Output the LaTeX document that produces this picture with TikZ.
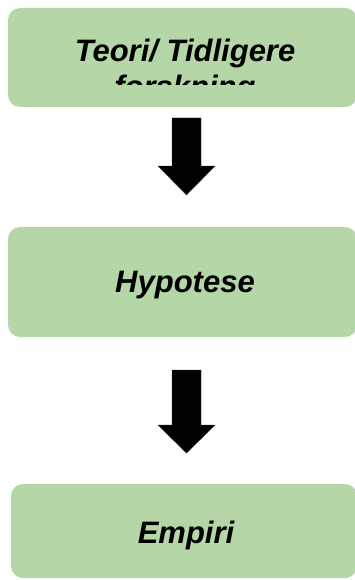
\documentclass[tikz,border=0pt]{standalone}
\usepackage{fontspec}
\setmainfont{Liberation Sans}
\definecolor{boxgreen}{RGB}{181,215,168}
\tikzset{
  greenbox/.style={fill=boxgreen, draw=none, rounded corners=12pt, inner sep=0pt},
  boxtext/.style={anchor=base, inner sep=0pt, font=\fontsize{31}{35}\selectfont\bfseries\itshape},
  blockarrow/.style={fill=black, draw=black!80, line width=0.4pt}
}
\begin{document}
\begin{tikzpicture}[x=1pt,y=-1pt]
\useasboundingbox (0,0) rectangle (355,580);
% boxes
\node[greenbox, minimum width=349pt, minimum height=99pt] (b1) at (182.5,57.5) {};
\node[greenbox, minimum width=349pt, minimum height=110pt] (b2) at (182.5,282) {};
\node[greenbox, minimum width=346pt, minimum height=94pt] (b3) at (184,531) {};
% text of first box, clipped
\begin{scope}
  \clip (8,8) rectangle (357,84.5);
  \node[boxtext] (t1a) at (185,62) {Teori/ Tidligere};
  \node[boxtext] (t1b) at (185,97.5) {forskning};
\end{scope}
\node[boxtext] (t2) at (185,292) {Hypotese};
\node[boxtext] (t3) at (186,543) {Empiri};
% block arrows
\draw[blockarrow] (172,118) -- (201,118) -- (201,166) -- (215,166) -- (186.5,195) -- (158,166) -- (172,166) -- cycle;
\draw[blockarrow] (172,370) -- (201,370) -- (201,425) -- (215,425) -- (186.5,453) -- (158,425) -- (172,425) -- cycle;
\end{tikzpicture}
\end{document}
